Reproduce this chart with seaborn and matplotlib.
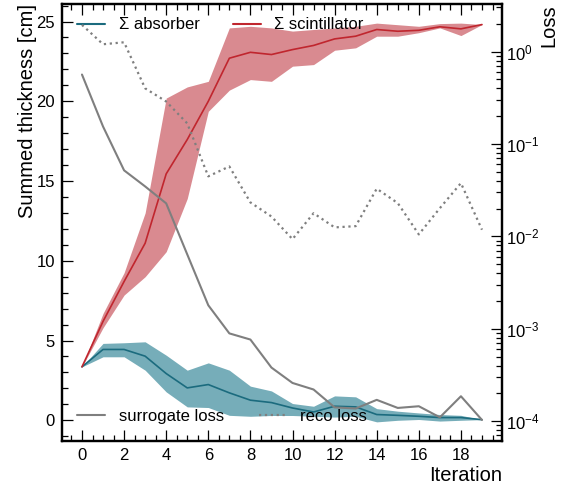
import numpy as np
import pandas as pd
import matplotlib
matplotlib.use("Agg")
import matplotlib.pyplot as plt
from matplotlib.ticker import LogLocator, NullFormatter, MultipleLocator
from matplotlib.lines import Line2D
import seaborn as sns

# ---------------- data ----------------
iterations = list(range(20))

absorber_mean = [3.35, 4.44, 4.44, 4.02, 2.93, 2.03, 2.24, 1.72, 1.26, 1.11,
                 0.77, 0.52, 0.88, 0.84, 0.36, 0.31, 0.25, 0.17, 0.17, 0.04]
absorber_upper = [3.35, 4.82, 4.86, 4.92, 4.08, 3.14, 3.60, 3.14, 2.14, 1.84,
                  1.05, 0.88, 1.53, 1.47, 0.73, 0.57, 0.46, 0.36, 0.31, 0.04]
absorber_lower = [3.35, 3.98, 3.98, 3.14, 1.78, 0.84, 0.80, 0.31, 0.25, 0.30,
                  0.30, 0.25, 0.20, 0.25, -0.10, 0.00, 0.05, -0.05, 0.00, 0.04]

scint_mean = [3.35, 6.2, 8.7, 11.1, 15.45, 17.6, 20.0, 22.7, 23.07, 22.93,
              23.24, 23.5, 23.91, 24.08, 24.5, 24.39, 24.45, 24.67, 24.54, 24.81]
scint_upper = [3.35, 6.7, 9.25, 13.0, 20.2, 20.9, 21.25, 24.6, 24.7, 24.6,
               24.4, 24.5, 24.6, 24.7, 24.9, 24.8, 24.7, 24.87, 24.9, 24.81]
scint_lower = [3.35, 5.8, 7.85, 9.0, 10.57, 13.9, 19.37, 20.7, 21.36, 21.25,
               22.2, 22.3, 23.2, 23.35, 24.08, 24.08, 24.3, 24.6, 24.12, 24.81]

surrogate_loss = [0.564, 0.1545, 0.0518, 0.0347, 0.02275, 0.00638, 0.001795,
                  0.000891, 0.000764, 0.00038, 0.000259, 0.00022, 0.000141,
                  0.000137, 0.00017, 0.000139, 0.000145, 0.00011, 0.000186, 0.000103]
reco_loss = [1.945, 1.20, 1.26, 0.40, 0.288, 0.167, 0.0446, 0.0571, 0.0233,
             0.0164, 0.00933, 0.0178, 0.0125, 0.0129, 0.0328, 0.0229, 0.0105,
             0.0202, 0.0377, 0.0118]

labels_top = ["Σ absorber", "Σ scintillator"]
labels_bottom = ["surrogate loss", "reco loss"]

# ---------------- style ----------------
sns.set_theme(style="ticks")
plt.rcParams["font.family"] = ["Liberation Sans", "DejaVu Sans"]
plt.rcParams["mathtext.fontset"] = "custom"
plt.rcParams["mathtext.rm"] = "Liberation Sans"
plt.rcParams["mathtext.it"] = "Liberation Sans:italic"
plt.rcParams["mathtext.bf"] = "Liberation Sans:bold"
plt.rcParams["axes.linewidth"] = 1.6
for k in ["text.color", "axes.labelcolor", "xtick.color", "ytick.color", "axes.edgecolor"]:
    plt.rcParams[k] = "black"

teal_line = "#1b6b7e"
teal_fill = "#76adb9"
red_line = "#c0262e"
red_fill = "#d98a90"
gray = "#7f7f7f"

df = pd.DataFrame({
    "iteration": iterations,
    "abs_mean": absorber_mean, "abs_up": absorber_upper, "abs_lo": absorber_lower,
    "sc_mean": scint_mean, "sc_up": scint_upper, "sc_lo": scint_lower,
    "surrogate": surrogate_loss, "reco": reco_loss,
})

fig = plt.figure(figsize=(5.76, 4.91), dpi=100)
ax = fig.add_axes([0.1076, 0.1018, 0.7639, 0.8901])

ax.fill_between(df["iteration"], df["abs_lo"], df["abs_up"], color=teal_fill, lw=0, zorder=1)
ax.fill_between(df["iteration"], df["sc_lo"], df["sc_up"], color=red_fill, lw=0, zorder=1)
sns.lineplot(data=df, x="iteration", y="abs_mean", ax=ax, color=teal_line, lw=1.2, zorder=2)
sns.lineplot(data=df, x="iteration", y="sc_mean", ax=ax, color=red_line, lw=1.2, zorder=2)

ax2 = ax.twinx()
sns.lineplot(data=df, x="iteration", y="surrogate", ax=ax2, color=gray, lw=1.5)
sns.lineplot(data=df, x="iteration", y="reco", ax=ax2, color=gray, lw=1.6, linestyle=":")
ax2.set_yscale("log")

# axes ranges / ticks
ax.set_xlim(-0.95, 19.95)
ax.set_ylim(-1.3, 26.1)
ax2.set_ylim(10 ** -4.215, 10 ** 0.515)

ax.xaxis.set_major_locator(MultipleLocator(2))
ax.xaxis.set_minor_locator(MultipleLocator(0.5))
ax.yaxis.set_major_locator(MultipleLocator(5))
ax.yaxis.set_minor_locator(MultipleLocator(1))
ax.tick_params(axis="both", which="both", direction="in", top=True, right=False,
               labelsize=12)
ax.tick_params(axis="x", which="major", length=8, width=0.9, pad=5)
ax.tick_params(axis="x", which="minor", length=4, width=0.9)
ax.tick_params(axis="y", which="major", length=8, width=0.9, pad=5)
ax.tick_params(axis="y", which="minor", length=4, width=0.9)

ax2.yaxis.set_major_locator(LogLocator(base=10, numticks=10))
ax2.yaxis.set_minor_locator(LogLocator(base=10, subs=np.arange(2, 10), numticks=20))
ax2.yaxis.set_minor_formatter(NullFormatter())
ax2.tick_params(axis="y", which="both", direction="in", labelsize=12, pad=3)
ax2.tick_params(axis="y", which="major", length=8, width=0.9)
ax2.tick_params(axis="y", which="minor", length=4, width=0.9)

# labels
ax.set_xlabel("Iteration", fontsize=14.5, loc="right")
ax.xaxis.set_label_coords(1.0, -0.058)
ax.set_ylabel("Summed thickness [cm]", fontsize=14.5, loc="top")
ax.yaxis.set_label_coords(-0.057, 1.0)
ax2.set_ylabel("Loss", fontsize=14.5, loc="top")
ax2.yaxis.set_label_coords(1.084, 1.0)

# legends
h_top = [Line2D([], [], color=teal_line, lw=1.5), Line2D([], [], color=red_line, lw=1.5)]
ax.legend(h_top, labels_top, ncol=2, frameon=False, fontsize=12,
          loc="center left", bbox_to_anchor=(0.034, 0.952),
          borderpad=0, borderaxespad=0, handlelength=1.7,
          handletextpad=0.8, columnspacing=2.0)
h_bot = [Line2D([], [], color=gray, lw=1.5), Line2D([], [], color=gray, lw=1.6, ls=":")]
ax2.legend(h_bot, labels_bottom, ncol=2, frameon=False, fontsize=12,
           loc="center left", bbox_to_anchor=(0.034, 0.057),
           borderpad=0, borderaxespad=0, handlelength=1.7,
           handletextpad=0.8, columnspacing=2.1)

for s in list(ax.spines.values()) + list(ax2.spines.values()):
    s.set_linewidth(1.6)

fig.savefig("out.png", dpi=100)
